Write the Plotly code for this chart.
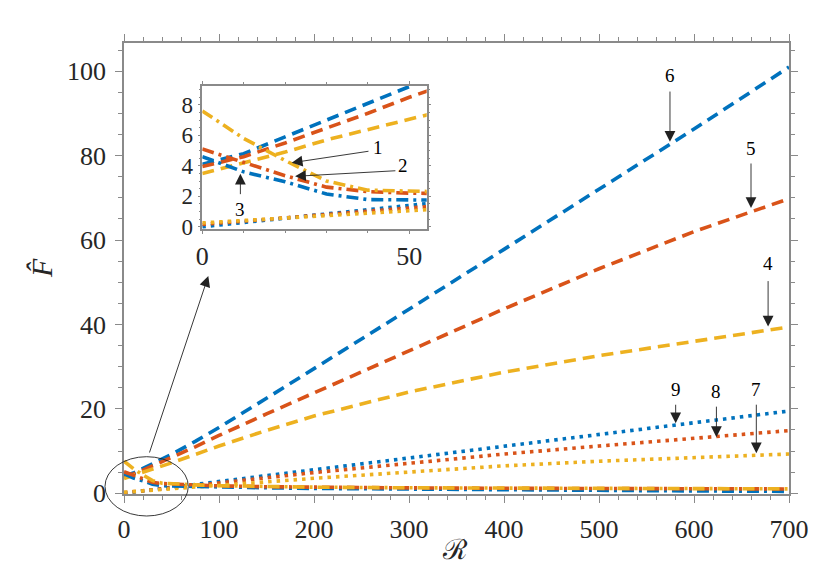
import plotly.graph_objects as go

# ---------------- data ----------------
R = [0, 10, 20, 30, 40, 50, 75, 100, 150, 200, 300, 400, 500, 600, 700]

# dash-dot curves (1, 2, 3)
F1 = [7.6, 5.8, 4.35, 3.0, 2.4, 2.25, 2.0, 1.8, 1.6, 1.45, 1.3, 1.2, 1.15, 1.1, 1.05]
F2 = [5.1, 4.2, 3.35, 2.6, 2.3, 2.2, 1.95, 1.75, 1.55, 1.42, 1.28, 1.18, 1.12, 1.08, 1.03]
F3 = [4.6, 3.6, 2.95, 2.15, 1.78, 1.72, 1.6, 1.5, 1.3, 1.15, 0.95, 0.8, 0.65, 0.55, 0.45]
# dashed curves (4, 5, 6)
F4 = [3.5, 4.2, 4.9, 5.7, 6.45, 7.2, 9.2, 11.2, 14.9, 18.3, 24.0, 28.7, 32.6, 36.1, 39.4]
F5 = [3.95, 4.6, 5.5, 6.45, 7.45, 8.5, 11.0, 13.7, 18.8, 23.8, 33.8, 43.7, 53.2, 62.0, 69.8]
F6 = [4.1, 4.8, 5.9, 7.0, 8.1, 9.2, 12.3, 15.6, 22.5, 29.5, 43.6, 57.8, 72.0, 86.3, 101.0]
# dotted curves (7, 8, 9)
F7 = [0.25, 0.4, 0.55, 0.7, 0.88, 1.05, 1.45, 1.85, 2.7, 3.55, 5.1, 6.5, 7.6, 8.5, 9.3]
F8 = [0.15, 0.35, 0.57, 0.8, 1.02, 1.25, 1.85, 2.45, 3.7, 4.9, 7.1, 9.3, 11.2, 13.0, 14.85]
F9 = [0.0, 0.28, 0.56, 0.84, 1.12, 1.4, 2.1, 2.8, 4.2, 5.6, 8.35, 11.1, 14.0, 16.9, 19.5]

main_xticks = [0, 100, 200, 300, 400, 500, 600, 700]
main_yticks = [0, 20, 40, 60, 80, 100]
inset_xticks = [0, 50]
inset_yticks = [0, 2, 4, 6, 8]

BLUE, RED, YEL = "#0072BD", "#D95319", "#EDB120"
DASH = "12px,7px"
DOT = "3.5px,5px"
DASHDOT = "12px,5px,3px,5px"

series = [
    (F1, YEL, DASHDOT), (F2, RED, DASHDOT), (F3, BLUE, DASHDOT),
    (F4, YEL, DASH), (F5, RED, DASH), (F6, BLUE, DASH),
    (F7, YEL, DOT), (F8, RED, DOT), (F9, BLUE, DOT),
]

fig = go.Figure()
for xa, ya in [("x", "y"), ("x2", "y2")]:
    for i in [8, 7, 6, 5, 4, 3, 2, 1, 0]:
        vals, col, dash = series[i]
        fig.add_trace(go.Scatter(x=R, y=vals, mode="lines",
                                 line=dict(color=col, width=3.6, dash=dash),
                                 xaxis=xa, yaxis=ya, showlegend=False, hoverinfo="skip"))

AX = "#8a8a8a"
TXT = "#262626"
FONT = "Liberation Serif"

# page offset (body margin) and geometry in screen pixels
OFF = 8
W, H = 830 - 2 * OFF, 581 - 2 * OFF
PL, PR, PT, PB = 124, 789, 43, 494          # plot area on screen
L, T = PL - OFF, PT - OFF
RGT, B = W - (PR - OFF), H - (PB - OFF)
PW, PH = PR - PL, PB - PT

def px(xp):
    return (xp - PL) / PW

def py(yp):
    return (PB - yp) / PH

common = dict(showline=True, linecolor=AX, linewidth=1.5, mirror="allticks",
              ticks="outside", tickcolor=AX, showgrid=False, zeroline=False)

fig.update_layout(
    width=W, height=H,
    margin=dict(l=L, r=RGT, t=T, b=B, autoexpand=False),
    paper_bgcolor="white", plot_bgcolor="white",
    xaxis=dict(range=[0, 700], tickvals=main_xticks, ticklen=7, tickwidth=1.2,
               minor=dict(dtick=20, ticklen=4, tickcolor=AX, ticks="outside"),
               ticklabelstandoff=4, tickfont=dict(family=FONT, size=26, color=TXT), **common),
    yaxis=dict(range=[-0.17, 106.7], tickvals=main_yticks, ticklen=7, tickwidth=1.2,
               minor=dict(dtick=5, ticklen=4, tickcolor=AX, ticks="outside"),
               ticklabelstandoff=4, tickfont=dict(family=FONT, size=26, color=TXT), **common),
    xaxis2=dict(domain=[px(202.3), px(426.7)], anchor="y2", range=[0, 54.2],
                tickvals=inset_xticks, ticklen=3, tickwidth=1,
                minor=dict(dtick=10, ticklen=2, tickcolor=AX, ticks="outside"),
                tickfont=dict(family=FONT, size=26, color=TXT), **common),
    yaxis2=dict(domain=[py(229), py(85.7)], anchor="x2", range=[-0.15, 9.26],
                tickvals=inset_yticks, ticklen=3, tickwidth=1,
                minor=dict(dtick=0.5, ticklen=2, tickcolor=AX, ticks="outside"),
                tickfont=dict(family=FONT, size=23, color=TXT), **common),
)

ann = []
# axis titles
ann.append(dict(text="ℛ", xref="paper", yref="paper", x=px(455), y=py(549),
                xanchor="center", yanchor="middle", showarrow=False,
                font=dict(family="DejaVu Serif", size=28, color=TXT)))
ann.append(dict(text="<i>F̂</i>", xref="paper", yref="paper", x=px(41), y=py(268),
                xanchor="center", yanchor="middle", showarrow=False, textangle=-90,
                font=dict(family=FONT, size=30, color=TXT)))

LBL = dict(family=FONT, size=19, color="black")
ARW = dict(showarrow=True, arrowhead=2, arrowsize=2.4, arrowwidth=0.9,
           arrowcolor="#222222", text="", standoff=0)

# main labels: (label, R, tipF, tail offset px, textF)
main_labels = [("6", 574.7, 83.3, -51.7, 99.1), ("5", 660, 67.6, -46, 81.8),
               ("4", 678, 39.5, -47, 54.5), ("9", 580.7, 16.6, -20, 24.5),
               ("8", 623.6, 13.3, -32, 24.1), ("7", 665.6, 9.5, -50, 24.6)]
for lab, xr, tip, off, tf in main_labels:
    ann.append(dict(xref="x", yref="y", x=xr, y=tip, ax=0, ay=off, **ARW))
    ann.append(dict(xref="x", yref="y", x=xr, y=tf, text=lab, showarrow=False,
                    xanchor="center", yanchor="middle", font=LBL))

# inset labels
inset_arrows = [(21.6, 4.2, 40.5, 4.97), (22.4, 3.31, 47.0, 3.68), (9.2, 3.48, 9.2, 2.04)]
for xt, yt, xa, ya in inset_arrows:
    ann.append(dict(xref="x2", yref="y2", x=xt, y=yt, axref="x2", ayref="y2",
                    ax=xa, ay=ya, **ARW))
for lab, xr, yr in [("1", 42.4, 5.23), ("2", 48.5, 4.05), ("3", 9.2, 1.11)]:
    ann.append(dict(xref="x2", yref="y2", x=xr, y=yr, text=lab, showarrow=False,
                    xanchor="center", yanchor="middle", font=LBL))

# arrow from ellipse to inset
ann.append(dict(xref="paper", yref="paper", x=px(208.3), y=py(276),
                ax=149 - 208.3, ay=454 - 276, **ARW))

fig.update_layout(annotations=ann)
fig.add_shape(type="circle", xref="paper", yref="paper",
              x0=px(105), x1=px(188.3), y0=py(516), y1=py(456.7),
              line=dict(color="#222222", width=0.9), layer="above")

fig.write_html("out.html")
